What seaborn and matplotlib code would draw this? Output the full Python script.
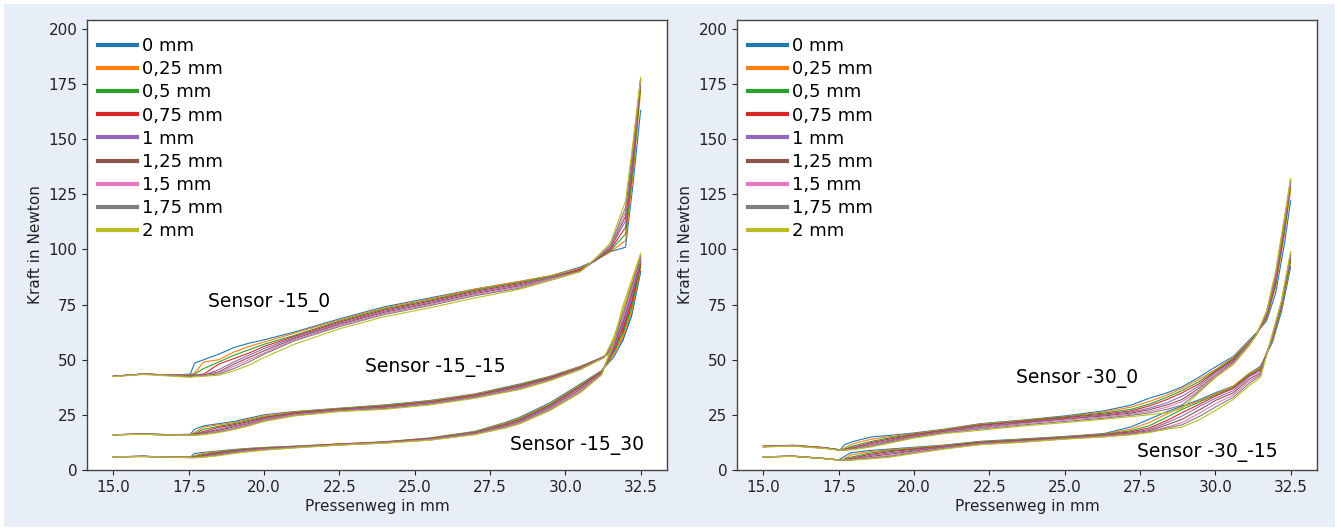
import numpy as np
import pandas as pd
import matplotlib
matplotlib.use("Agg")
import matplotlib.pyplot as plt
import seaborn as sns
from matplotlib.lines import Line2D
from matplotlib.patches import Rectangle

# ---------------- data ----------------
offsets = ["0 mm", "0,25 mm", "0,5 mm", "0,75 mm", "1 mm",
           "1,25 mm", "1,5 mm", "1,75 mm", "2 mm"]
colors = ["#1f77b4", "#ff7f0e", "#2ca02c", "#d62728", "#9467bd",
          "#8c564b", "#e377c2", "#7f7f7f", "#bcbd22"]

# Sensor -15_0
s15_0_x = [15, 16, 17, 17.55, 17.7, 18, 18.5, 19, 19.5, 20, 21, 22.5, 24, 25.5,
           27, 28.5, 29.5, 30.5, 31, 31.5, 32, 32.25, 32.5]
s15_0_y = [
    [42.5, 43.5, 43, 43.5, 48.5, 50, 52.5, 55.5, 57.5, 59, 62.5, 68.5, 74, 78, 82, 85.5, 88, 92, 95, 99, 101, 130, 163],
    [42.5, 43.5, 43, 43.2, 44, 49, 50, 53.5, 56, 58, 62, 68, 73.5, 77.5, 82, 85.5, 88, 91.5, 95, 99, 104, 134, 172],
    [42.5, 43.5, 43, 43, 43.5, 46, 49, 52, 54.5, 57, 61, 67.5, 73, 77, 81.5, 85, 87.5, 91, 95, 99.5, 107, 137, 174],
    [42.5, 43.5, 43, 42.8, 43, 43.5, 48, 50.5, 53, 56, 60.5, 67, 72.5, 76.5, 81, 84.5, 87, 91, 95, 100, 110, 140, 176],
    [42.5, 43.5, 43, 42.6, 43, 43, 45.5, 49, 52, 55, 60, 66.5, 72, 76, 80.5, 84, 87, 90.5, 95, 100.5, 113, 142, 177],
    [42.5, 43.5, 42.8, 42.5, 42.8, 43, 44.5, 48, 51, 54, 59.5, 66, 71.5, 75.5, 80, 83.5, 86.5, 90.5, 95, 101, 115, 144, 177],
    [42.5, 43.5, 42.8, 42.4, 42.5, 42.8, 44, 47, 50, 53, 59, 65.5, 71, 75, 79.5, 83, 86.5, 90, 95.5, 101.5, 117, 146, 177],
    [42.5, 43.5, 42.7, 42.3, 42.5, 42.8, 43.5, 46, 49, 52.5, 58.5, 65, 70.5, 74.5, 79, 82.5, 86, 90, 95.5, 102, 119, 147, 177],
    [42.3, 43.3, 42.5, 42, 42.3, 42.5, 43, 45, 47.5, 51, 57, 64, 69.5, 73.5, 78, 82, 86, 90, 96, 103, 122, 149, 178],
]

# Sensor -15_-15
s15_m15_x = [15, 16, 17, 17.55, 17.7, 18, 18.5, 19, 19.5, 20, 21, 22.5, 24, 25.5,
             27, 28.5, 29.5, 30.5, 31.3, 31.6, 31.9, 32.2, 32.5]
s15_m15_y = [
    [16, 16.3, 16, 16.2, 18.5, 20, 21, 22, 23.5, 25, 26.5, 28, 29.5, 31.5, 34.5, 39, 42.5, 47, 51.5, 54, 58.5, 70, 90],
    [16, 16.3, 16, 16.1, 17, 19.5, 20.5, 21.5, 23, 24.5, 26.3, 27.9, 29.3, 31.3, 34.3, 38.7, 42.3, 46.8, 51.5, 55, 60, 72, 92],
    [16, 16.3, 16, 16, 16.5, 18.5, 19.8, 21, 22.5, 24, 26, 27.7, 29.1, 31, 34, 38.5, 42, 46.5, 51.5, 56, 61.5, 74, 93],
    [16, 16.3, 15.9, 16, 16.2, 17.5, 19.3, 20.5, 22, 23.7, 25.8, 27.5, 28.8, 30.8, 33.8, 38.2, 41.8, 46.3, 51.5, 57, 63, 76, 94],
    [16, 16.2, 15.9, 15.9, 16, 17, 18.5, 20, 21.5, 23.3, 25.5, 27.3, 28.5, 30.5, 33.5, 37.8, 41.5, 46.2, 51.3, 57.5, 65, 78, 95],
    [16, 16.2, 15.9, 15.9, 16, 16.7, 18, 19.5, 21, 23, 25.3, 27.1, 28.3, 30.2, 33.2, 37.5, 41.3, 46, 51.2, 58, 66.5, 80, 96],
    [16, 16.2, 15.8, 15.8, 15.9, 16.4, 17.6, 19, 20.7, 22.7, 25, 26.9, 28, 30, 33, 37.2, 41, 45.8, 51.2, 58.5, 68, 81.5, 96.5],
    [16, 16.2, 15.8, 15.8, 15.8, 16.2, 17.3, 18.6, 20.3, 22.3, 24.7, 26.7, 27.8, 29.8, 32.8, 36.8, 40.8, 45.6, 51.1, 59, 70, 83, 97],
    [16, 16.2, 15.8, 15.8, 15.8, 16, 17, 18.3, 20, 22, 24.5, 26.5, 27.5, 29.5, 32.5, 36.5, 40.5, 45.5, 51, 60, 72, 85, 98],
]

# Sensor -15_30
s15_30_x = [15, 16, 17, 17.55, 17.7, 18, 18.5, 19, 19.5, 20, 21, 22.5, 24, 25.5,
            27, 28, 28.5, 29.5, 30.5, 31.2, 31.6, 31.9, 32.2, 32.5]
s15_30_y = [
    [6, 6.2, 5.8, 5.8, 7.5, 8, 8.6, 9.3, 9.8, 10.2, 10.8, 11.8, 12.8, 14.5, 17.5, 21.5, 24, 30.5, 39, 45, 51, 58.5, 70, 90],
    [6, 6.2, 5.8, 5.8, 6.5, 7.6, 8.4, 9.1, 9.7, 10.1, 10.7, 11.8, 12.7, 14.4, 17.3, 21.2, 23.6, 30, 38.6, 44.8, 52, 60, 72, 92],
    [6, 6.2, 5.8, 5.7, 6.1, 7.1, 8.1, 8.9, 9.5, 10, 10.6, 11.7, 12.6, 14.3, 17.1, 20.8, 23.2, 29.6, 38.2, 44.6, 53, 62, 74, 93],
    [6, 6.2, 5.8, 5.7, 5.9, 6.7, 7.8, 8.6, 9.3, 9.8, 10.5, 11.7, 12.6, 14.2, 16.9, 20.5, 22.8, 29.2, 37.8, 44.4, 54, 64, 76, 94],
    [6, 6.2, 5.8, 5.7, 5.8, 6.4, 7.5, 8.4, 9.1, 9.7, 10.4, 11.6, 12.5, 14.1, 16.8, 20.2, 22.4, 28.8, 37.2, 44.2, 55, 66, 78, 95],
    [6, 6.2, 5.8, 5.7, 5.7, 6.2, 7.2, 8.1, 8.9, 9.5, 10.3, 11.5, 12.4, 14, 16.6, 19.9, 22, 28.3, 36.6, 44, 56, 68, 80, 96],
    [6, 6.1, 5.8, 5.6, 5.7, 6, 6.9, 7.9, 8.7, 9.3, 10.2, 11.4, 12.3, 13.8, 16.4, 19.6, 21.6, 27.8, 36, 43.6, 56.5, 70, 82, 96.5],
    [6, 6.1, 5.8, 5.6, 5.6, 5.9, 6.7, 7.7, 8.5, 9.1, 10.1, 11.3, 12.2, 13.6, 16.2, 19.3, 21.3, 27.4, 35.5, 43.3, 57, 72, 84, 97],
    [6, 6.1, 5.8, 5.6, 5.6, 5.8, 6.5, 7.5, 8.3, 9, 10, 11.3, 12.2, 13.5, 16, 19, 21, 27, 35, 43, 58, 74, 86, 98],
]

# Sensor -30_0
s30_0_x = [15, 16, 17, 17.55, 17.7, 18, 18.6, 19.3, 20, 21, 22.2, 23.5, 25, 26.3,
           27.2, 27.8, 28.4, 28.9, 29.45, 30, 30.6, 31.1, 31.35, 31.7, 32, 32.3, 32.5]
s30_0_y = [
    [10.8, 11.2, 10.2, 9.2, 11.5, 13, 15, 15.8, 16.8, 18.5, 21, 22.5, 24.5, 26.8, 29.4, 32.5, 35, 37.7, 42, 46.7, 51.5, 58.5, 62, 67.5, 80, 103, 122],
    [10.8, 11.2, 10.2, 9.1, 10, 12, 14, 15.3, 16.5, 18.3, 20.8, 22.3, 24.2, 26.3, 28.5, 31, 34, 37, 41, 45.5, 51, 58, 61.5, 68.5, 83, 107, 127],
    [10.7, 11.1, 10.1, 9.1, 9.5, 11, 13, 14.8, 16.2, 18, 20.5, 22, 24, 25.8, 27.5, 29.8, 33, 36, 40, 45, 50.5, 57.5, 61.5, 69, 84, 109, 129],
    [10.7, 11.1, 10.1, 9.0, 9.3, 10.3, 12.5, 14.3, 16, 17.8, 20.2, 21.8, 23.7, 25.3, 26.8, 29, 32, 35, 39, 44.5, 50, 57, 61, 69.5, 85, 110, 130],
    [10.6, 11, 10, 9.0, 9.2, 10, 12, 13.8, 15.6, 17.6, 19.8, 21.5, 23.3, 24.9, 26.3, 28, 30.5, 33.5, 38, 44, 49.5, 57, 61, 70, 86, 111, 131],
    [10.6, 11, 10, 9.0, 9.1, 9.8, 11.5, 13.4, 15.3, 17.3, 19.3, 21.2, 23, 24.5, 25.8, 27.3, 29.5, 32, 37, 43, 49, 56.5, 61, 70.5, 87, 112, 131],
    [10.6, 11, 9.9, 9.0, 9.1, 9.6, 11.2, 13, 15, 17, 19, 20.8, 22.6, 24, 25.3, 26.5, 28.5, 31, 36, 42.5, 48.5, 56.5, 61, 71, 88, 113, 131],
    [10.5, 10.9, 9.9, 9.0, 9.0, 9.5, 10.8, 12.8, 14.8, 16.8, 18.6, 20.3, 22, 23.5, 24.8, 25.8, 27.5, 29.5, 35.5, 42, 48, 56, 61, 71.5, 89, 114, 132],
    [10.5, 10.8, 9.8, 9.0, 9.0, 9.3, 10.5, 12.5, 14.5, 16.5, 18, 19.8, 21.5, 23, 24.2, 25, 26, 28, 35, 42, 48, 56, 61, 72, 90, 115, 132],
]

# Sensor -30_-15
s30_m15_x = [15, 16, 17, 17.5, 17.65, 17.9, 18.5, 19.2, 20, 21, 22.2, 23.5, 25, 26.3,
             27.2, 27.8, 28.4, 28.9, 29.5, 30, 30.6, 31.1, 31.5, 31.9, 32.2, 32.5]
s30_m15_y = [
    [6, 6.3, 5.3, 4.6, 5.8, 7.8, 8.8, 9.5, 10.3, 11.3, 13, 14, 15.2, 16.5, 19.5, 23, 26.5, 29, 32, 35, 38, 43.5, 47, 58, 72, 92],
    [6, 6.3, 5.3, 4.6, 4.8, 6.8, 8.3, 9.2, 10, 11.1, 12.8, 13.8, 15, 16.3, 18.5, 21.5, 25.5, 28.5, 31.5, 34.5, 38, 43.5, 46.5, 59, 73.5, 94],
    [6, 6.2, 5.3, 4.6, 4.7, 5.8, 7.6, 8.8, 9.7, 10.9, 12.6, 13.6, 14.8, 16.1, 17.8, 20, 24, 27.5, 31, 34, 37.5, 43, 46, 59.5, 74, 95],
    [6, 6.2, 5.2, 4.6, 4.6, 5.2, 7, 8.3, 9.4, 10.7, 12.4, 13.4, 14.7, 15.9, 17.3, 19, 22.5, 26, 30, 33.5, 37, 42.5, 45.5, 60, 75, 96],
    [6, 6.2, 5.2, 4.5, 4.6, 4.9, 6.5, 7.8, 9, 10.5, 12.2, 13.2, 14.5, 15.7, 16.9, 18.3, 21.5, 24.5, 29, 32.5, 36, 42, 45, 60.5, 75.5, 97],
    [6, 6.2, 5.2, 4.5, 4.5, 4.7, 6, 7.2, 8.6, 10.2, 12, 13, 14.4, 15.5, 16.6, 17.8, 20.5, 23, 27.5, 31.5, 35, 41, 44, 61, 76, 97.5],
    [6, 6.2, 5.2, 4.5, 4.5, 4.6, 5.6, 6.6, 8.2, 9.9, 11.8, 12.8, 14.2, 15.3, 16.3, 17.4, 19.5, 21.5, 26, 30, 34, 40, 43.5, 61, 76, 98],
    [6, 6.2, 5.2, 4.5, 4.5, 4.5, 5.3, 6.2, 7.8, 9.7, 11.6, 12.6, 14.1, 15.1, 16.1, 17.2, 19, 20.5, 24.5, 28.5, 33, 39, 43, 61.5, 76.5, 98.5],
    [6, 6.2, 5.2, 4.5, 4.5, 4.5, 5, 5.8, 7.5, 9.5, 11.5, 12.5, 14, 15, 16, 17, 18.5, 19.5, 23, 27, 32, 38, 42, 62, 77, 99],
]

xticks = [15.0, 17.5, 20.0, 22.5, 25.0, 27.5, 30.0, 32.5]
yticks = [0, 25, 50, 75, 100, 125, 150, 175, 200]

# ---------------- build long table ----------------
panels = [
    [("Sensor -15_0", s15_0_x, s15_0_y),
     ("Sensor -15_-15", s15_m15_x, s15_m15_y),
     ("Sensor -15_30", s15_30_x, s15_30_y)],
    [("Sensor -30_0", s30_0_x, s30_0_y),
     ("Sensor -30_-15", s30_m15_x, s30_m15_y)],
]
frames = []
for p, group in enumerate(panels):
    for name, xs, ys in group:
        for off, row in zip(offsets, ys):
            frames.append(pd.DataFrame({"panel": p, "sensor": name, "offset": off,
                                        "weg": xs, "kraft": row}))
df = pd.concat(frames, ignore_index=True)

# ---------------- figure ----------------
W, H = 1341, 531
fig = plt.figure(figsize=(W / 100, H / 100), dpi=100, facecolor="white")
fig.patches.append(Rectangle((4 / W, 4 / H), (1335 - 4) / W, (527 - 4) / H,
                             transform=fig.transFigure, facecolor="#e8eef8",
                             edgecolor="none", zorder=-10))

ax1 = fig.add_axes([87 / W, (H - 470) / H, 580 / W, 450 / H])
ax2 = fig.add_axes([737 / W, (H - 470) / H, 580 / W, 450 / H])

labels_pos = {
    "Sensor -15_0": (18.15, 76),
    "Sensor -15_-15": (23.35, 46.5),
    "Sensor -15_30": (28.15, 11.3),
    "Sensor -30_0": (23.4, 41.5),
    "Sensor -30_-15": (27.4, 8.0),
}

for p, ax in enumerate([ax1, ax2]):
    sub = df[df["panel"] == p]
    sns.lineplot(data=sub, x="weg", y="kraft", hue="offset", units="sensor",
                 estimator=None, hue_order=offsets, palette=colors, sort=False,
                 linewidth=0.8, legend=False, ax=ax)
    ax.set_facecolor("white")
    ax.set_ylim(0, 204)
    ax.set_xlim(14.125, 33.375)
    ax.set_yticks(yticks)
    ax.set_xticks(xticks)
    ax.set_xticklabels([f"{t:.1f}" for t in xticks])
    ax.tick_params(labelsize=11, colors="#222222", length=3.5, width=0.8)
    for s in ax.spines.values():
        s.set_color("#444444")
        s.set_linewidth(1.0)
    ax.set_xlabel("Pressenweg in mm", fontsize=11, color="#222222", labelpad=3)
    ax.set_ylabel("Kraft in Newton", fontsize=11, color="#222222")
    for name, _, _ in panels[p]:
        tx, ty = labels_pos[name]
        ax.text(tx, ty, name, fontsize=13.5, va="center", ha="left", color="black")
    handles = [Line2D([0], [0], color=c, lw=3) for c in colors]
    ax.legend(handles, offsets, loc="upper left", bbox_to_anchor=(0.012, 0.970),
              frameon=False, fontsize=13, handlelength=2.2, handletextpad=0.25,
              labelspacing=0.285, borderaxespad=0.0, borderpad=0.2)

fig.savefig("out.png", dpi=100, facecolor=fig.get_facecolor())
